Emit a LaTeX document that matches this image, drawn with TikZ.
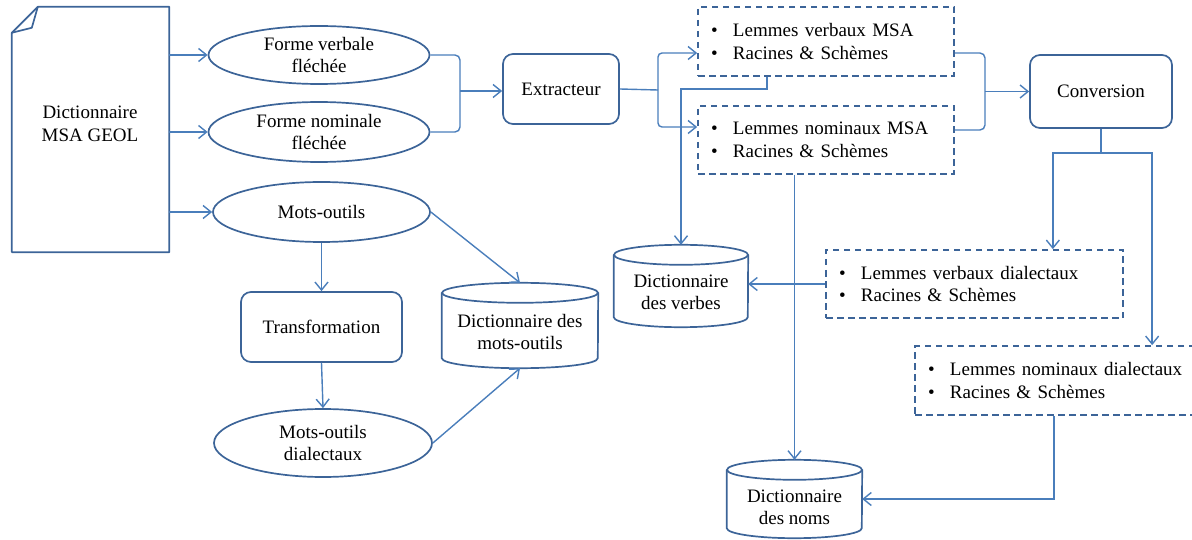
\documentclass[tikz,border=0pt]{standalone}
\usepackage{fontspec}
\setmainfont{Liberation Serif}
\usetikzlibrary{shapes.geometric,arrows.meta,calc}
\definecolor{shp}{RGB}{60,100,152}
\definecolor{connc}{RGB}{74,126,187}
\newcommand\bul{\makebox[22pt][l]{\textbullet}}
\newcommand\dbcyl[2]{%
  \draw[shapeline] ($(#1.north west)+(0,10)$) -- ($(#1.south west)+(0,-10)$)
     arc[start angle=180,end angle=360,x radius=#2,y radius=10pt] -- ($(#1.north east)+(0,10)$);
  \draw[shapeline] ($(#1.north)+(0,10)$) ellipse[x radius=#2, y radius=10pt];}
\tikzset{
  base/.style={font=\fontsize{19}{22.5}\selectfont, align=center, inner sep=0pt, text=black},
  shapeline/.style={draw=shp, line width=1.7pt},
  ell/.style={base, shapeline, ellipse},
  rbox/.style={base, shapeline, rectangle, rounded corners=10pt},
  dbox/.style={font=\fontsize{19}{22.5}\selectfont, shapeline, dash pattern=on 6.5pt off 4.5pt, align=left, inner xsep=13pt, inner ysep=0pt},
  conn/.style={draw=connc, line width=1.4pt},
  arr/.style={conn, -{Straight Barb[length=8pt,width=13pt]}},
}
\begin{document}
\begin{tikzpicture}[x=1pt,y=-1pt]
\useasboundingbox (0,0) rectangle (1192,540);
% document
\node[minimum width=157pt, minimum height=245pt, inner sep=0pt] (doc) at (90.5,129.5) {};
\draw[shapeline, line join=round] ($(doc.north west)+(0,26)$) -- ($(doc.north west)+(26,0)$) -- (doc.north east) -- (doc.south east) -- (doc.south west) -- cycle;
\draw[shapeline, line join=round] ($(doc.north west)+(0,26)$) -- ($(doc.north west)+(20,21)$) -- ($(doc.north west)+(26,0)$);
\node[base] (doct) at (90,124) {Dictionnaire\\MSA GEOL};
% ellipses and boxes
\node[ell, minimum width=221pt, minimum height=58pt] (e1) at (319,55) {Forme verbale\\fléchée};
\node[ell, minimum width=221pt, minimum height=60pt] (e2) at (319,132) {Forme nominale\\fléchée};
\node[ell, minimum width=217pt, minimum height=60pt] (e3) at (321.5,212) {Mots-outils};
\node[rbox, minimum width=161pt, minimum height=70pt] (tr) at (321.5,327) {Transformation};
\node[ell, minimum width=218pt, minimum height=68pt] (e4) at (323,443) {Mots-outils\\dialectaux};
\node[rbox, minimum width=116pt, minimum height=70pt] (ext) at (561,89) {Extracteur};
\node[rbox, minimum width=142pt, minimum height=73pt] (conv) at (1101,91.5) {Conversion};
% dashed boxes
\node[dbox, text width=230pt, minimum height=69pt] (l1) at (826,41.5) {\bul Lemmes verbaux MSA\\\bul Racines \& Schèmes};
\node[dbox, text width=230pt, minimum height=68pt] (l2) at (826,140) {\bul Lemmes nominaux MSA\\\bul Racines \& Schèmes};
\node[dbox, text width=271pt, minimum height=68pt] (l3) at (974.5,284) {\bul Lemmes verbaux dialectaux\\\bul Racines \& Schèmes};
\node[dbox, text width=294pt, minimum height=69pt] (l4) at (1075,380.5) {\bul Lemmes nominaux dialectaux\\\bul Racines \& Schèmes};
% cylinders
\node[minimum width=156pt, minimum height=85pt, inner sep=0pt] (cm) at (520,325.5) {};
\node[base] (cmt) at (520,332) {Dictionnaire des\\mots-outils};
\node[minimum width=134pt, minimum height=82pt, inner sep=0pt] (cv) at (681,286) {};
\node[base] (cvt) at (681,292.5) {Dictionnaire\\des verbes};
\node[minimum width=135pt, minimum height=78pt, inner sep=0pt] (cn) at (794.5,499) {};
\node[base] (cnt) at (794.5,507.5) {Dictionnaire\\des noms};
\dbcyl{cm}{78pt}
\dbcyl{cv}{67pt}
\dbcyl{cn}{67.5pt}
% connectors
\draw[arr] (doc.east |- e1.west) -- (e1.west);
\draw[arr] (doc.east |- e2.west) -- (e2.west);
\draw[arr] (doc.east |- e3.west) -- (e3.west);
\draw[conn, rounded corners=5pt] (e1.east) -- (460,55) -- (460,132) -- (e2.east);
\coordinate (b1) at (460,91);
\draw[arr] (b1) -- (b1 -| ext.west);
\draw[conn] (ext.east) -- (658,90) coordinate (f1);
\draw[arr, rounded corners=4pt] (f1) |- ($(l1.west)+(0,11.5)$);
\draw[arr, rounded corners=4pt] (f1) |- ($(l2.west)+(0,-13)$);
\draw[conn, rounded corners=5pt] ($(l1.east)+(0,11.5)$) -- (985,53) -- (985,130) -- ($(l2.east)+(0,-10)$);
\coordinate (b2) at (985,91.5);
\draw[arr] (b2) -- (b2 -| conv.west);
\draw[arr] ($(l1.south)+(-59,0)$) -- ++(0,12) -| (cv.north);
\draw[arr] (cn.north |- l2.south) -- (cn.north);
\draw[arr] (l3.west) -- (l3.west -| cv.east);
\draw[conn] (conv.south) -- ++(0,24) coordinate (cj);
\draw[arr] (cj) -| ($(l3.north east)+(-71,0)$);
\draw[arr] (cj) -| ($(l4.north west)+(238,0)$);
\draw[arr] ($(l4.south west)+(140,0)$) |- (cn.east);
\draw[arr] (e3.east) -- (cm.north);
\draw[arr] (e4.east) -- (cm.south);
\draw[arr] (e3.south) -- (tr.north);
\draw[arr] (tr.south) -- (e4.north);
\end{tikzpicture}
\end{document}
